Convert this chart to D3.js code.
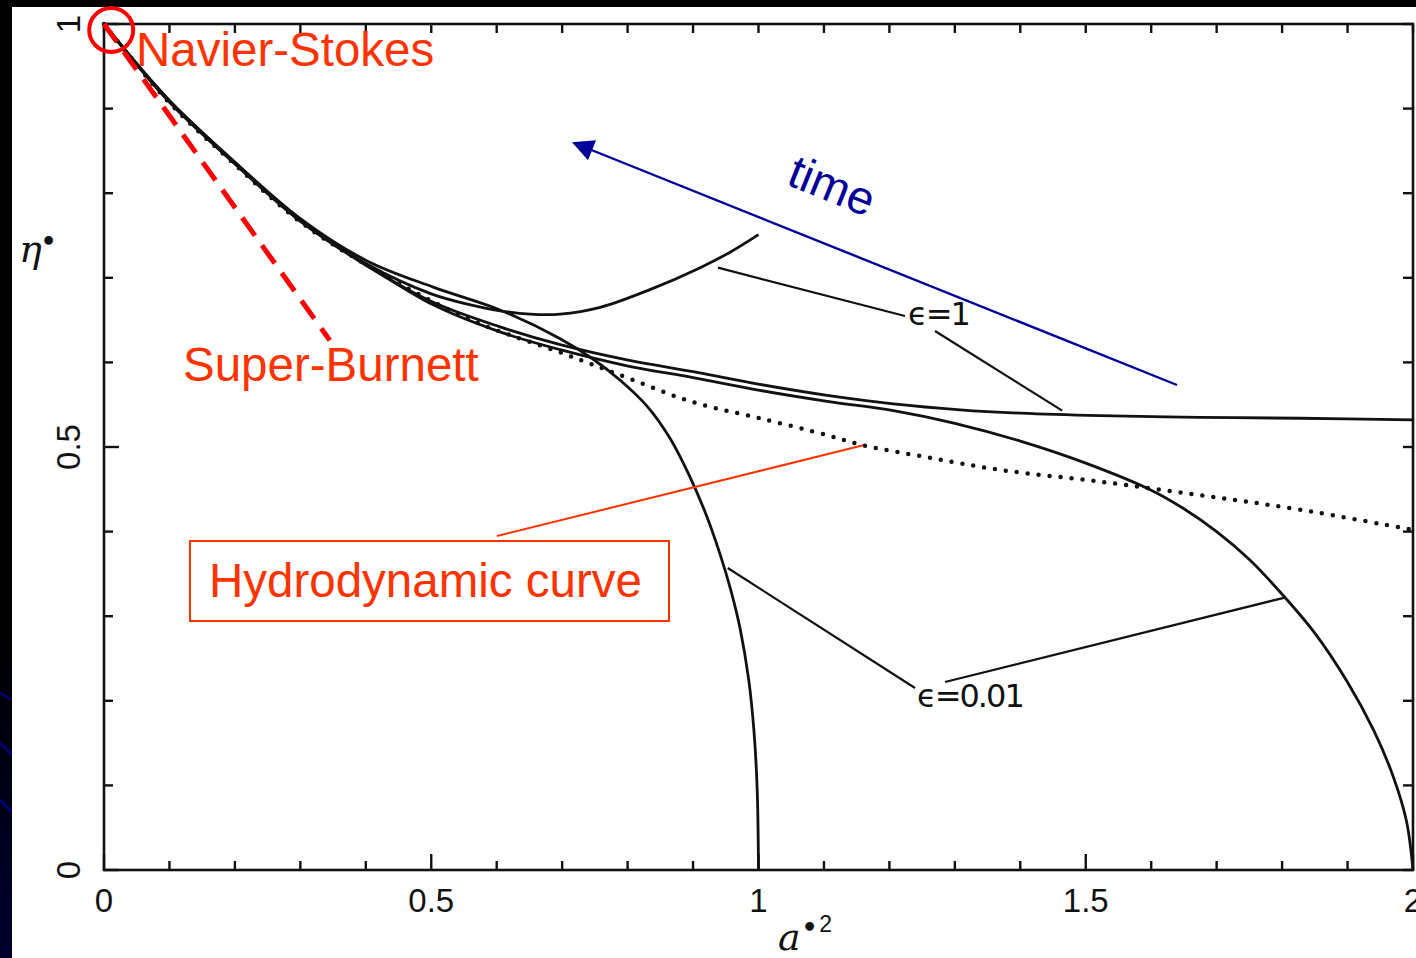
<!DOCTYPE html>
<html>
<head>
<meta charset="utf-8">
<script src="https://cdn.jsdelivr.net/npm/d3@7"></script>
<style>
  html, body { margin: 0; padding: 0; background: #000; }
  svg { display: block; }
</style>
</head>
<body>
<svg id="chart" width="1416" height="958"></svg>
<script>
// ---- Data: reduced shear viscosity eta* versus a*^2 ----
// Hydrodynamic (steady) curve
const hydroCurve = [[0,1],[0.096,0.910],[0.197,0.836],[0.300,0.766],[0.402,0.715],[0.555,0.652],[0.707,0.609],[0.799,0.582],[0.900,0.553],[1.002,0.534],[1.105,0.514],[1.160,0.502],[1.257,0.488],[1.369,0.473],[1.522,0.459],[1.675,0.443],[1.827,0.426],[2.0,0.402]];
// epsilon = 1 trajectories
const eps1Rising = [[0,1],[0.096,0.911],[0.197,0.837],[0.300,0.767],[0.402,0.716],[0.500,0.681],[0.560,0.668],[0.605,0.661],[0.651,0.657],[0.697,0.657],[0.758,0.665],[0.834,0.686],[0.911,0.712],[0.956,0.730],[1.0,0.751]];
const eps1Flat = [[0,1],[0.096,0.911],[0.197,0.837],[0.300,0.767],[0.402,0.714],[0.503,0.671],[0.605,0.642],[0.697,0.621],[0.799,0.603],[0.900,0.589],[1.002,0.574],[1.105,0.561],[1.206,0.551],[1.308,0.544],[1.400,0.540],[1.522,0.537],[1.675,0.535],[1.827,0.534],[2.0,0.532]];
// epsilon = 0.01 trajectories
const eps001Short = [[0,1],[0.096,0.913],[0.197,0.839],[0.300,0.770],[0.402,0.720],[0.503,0.689],[0.605,0.662],[0.697,0.628],[0.747,0.604],[0.790,0.578],[0.830,0.548],[0.865,0.510],[0.895,0.465],[0.920,0.420],[0.941,0.374],[0.958,0.330],[0.972,0.285],[0.985,0.225],[0.993,0.165],[0.998,0.095],[1.0,0]];
const eps001Long = [[0,1],[0.096,0.912],[0.197,0.838],[0.300,0.768],[0.402,0.715],[0.503,0.668],[0.605,0.636],[0.697,0.615],[0.799,0.596],[0.900,0.582],[1.002,0.567],[1.105,0.554],[1.206,0.543],[1.300,0.528],[1.400,0.507],[1.500,0.481],[1.600,0.449],[1.650,0.427],[1.700,0.400],[1.750,0.367],[1.800,0.326],[1.850,0.280],[1.900,0.222],[1.940,0.165],[1.970,0.110],[1.990,0.058],[2.0,0]];
// Super-Burnett approximation near the Navier-Stokes point
const superBurnett = [[0,1],[0.345,0.626]];

const xTickLabels = [0, 0.5, 1, 1.5, 2];
const yTickLabels = [0, 0.5, 1];

// ---- Layout ----
const svg = d3.select("#chart");
const W = 1416, H = 958;
const x = d3.scaleLinear().domain([0, 2]).range([104, 1413]);
const y = d3.scaleLinear().domain([0, 1]).range([870, 24]);

// slide backdrop
const defs = svg.append("defs");
const grad = defs.append("linearGradient").attr("id", "edgeGrad").attr("x1", 0).attr("x2", 0).attr("y1", 0).attr("y2", 1);
grad.append("stop").attr("offset", "0.65").attr("stop-color", "#000");
grad.append("stop").attr("offset", "1").attr("stop-color", "#000030");
svg.append("rect").attr("width", W).attr("height", H).attr("fill", "url(#edgeGrad)");
[[693, 700], [743, 755], [800, 812]].forEach(([y0, y1]) => {
  svg.append("line").attr("x1", 0).attr("y1", y0).attr("x2", 12).attr("y2", y1)
    .attr("stroke", "#000080").attr("stroke-width", 2.5);
});
svg.append("rect").attr("x", 12).attr("y", 7).attr("width", W - 12).attr("height", H - 7).attr("fill", "#fff");

// ---- Frame and ticks ----
const g = svg.append("g");
const frameColor = "#111";
g.append("rect").attr("x", x(0)).attr("y", y(1)).attr("width", x(2) - x(0)).attr("height", y(0) - y(1))
  .attr("fill", "none").attr("stroke", frameColor).attr("stroke-width", 2.6);

const ticks = d3.range(0, 21).map(i => i / 10);
const yticks = d3.range(0, 11).map(i => i / 10);
const isMajor = v => Math.abs(v * 2 - Math.round(v * 2)) < 1e-6;

// bottom & top ticks, pointing into the frame
ticks.forEach(v => {
  const len = isMajor(v) ? 16 : 9;
  g.append("line").attr("x1", x(v)).attr("x2", x(v)).attr("y1", y(0)).attr("y2", y(0) - len)
    .attr("stroke", frameColor).attr("stroke-width", 2.4);
  g.append("line").attr("x1", x(v)).attr("x2", x(v)).attr("y1", y(1)).attr("y2", y(1) + 9)
    .attr("stroke", frameColor).attr("stroke-width", 2.4);
});
// left & right ticks
yticks.forEach(v => {
  const len = isMajor(v) ? 15 : 9;
  g.append("line").attr("x1", x(0)).attr("x2", x(0) + len).attr("y1", y(v)).attr("y2", y(v))
    .attr("stroke", frameColor).attr("stroke-width", 2.4);
  g.append("line").attr("x1", x(2)).attr("x2", x(2) - 10).attr("y1", y(v)).attr("y2", y(v))
    .attr("stroke", frameColor).attr("stroke-width", 2.4);
});

// tick labels
const tickFont = "'Liberation Sans', Arial, sans-serif";
g.selectAll(".xlab").data(xTickLabels).enter().append("text")
  .attr("x", d => x(d)).attr("y", 912)
  .attr("text-anchor", "middle").attr("font-family", tickFont).attr("font-size", 33)
  .attr("fill", "#111").text(d => d);
g.selectAll(".ylab").data(yTickLabels).enter().append("text")
  .attr("transform", d => `translate(80,${y(d)}) rotate(-90)`)
  .attr("text-anchor", "middle").attr("font-family", tickFont).attr("font-size", 33)
  .attr("fill", "#111").text(d => d);

// axis titles
const yTitle = g.append("text").attr("x", 19).attr("y", 262)
  .attr("font-family", "'DejaVu Serif', 'Liberation Serif', serif").attr("font-style", "italic")
  .attr("font-size", 38).attr("fill", "#111");
yTitle.append("tspan").text("η");
yTitle.append("tspan").attr("dy", -10).attr("dx", -2).attr("font-size", 30).attr("font-style", "normal").text("•");

const xTitle = g.append("text").attr("x", 778).attr("y", 950)
  .attr("font-family", "'DejaVu Serif', 'Liberation Serif', serif").attr("font-style", "italic")
  .attr("font-size", 38).attr("fill", "#111");
xTitle.append("tspan").text("a");
xTitle.append("tspan").attr("dy", -12).attr("font-size", 30).attr("font-style", "normal").text("•");
xTitle.append("tspan").attr("dy", -6).attr("dx", 1).attr("font-size", 23).attr("font-style", "normal")
  .attr("font-family", tickFont).text("2");

// ---- Curves ----
const line = d3.line().x(d => x(d[0])).y(d => y(d[1])).curve(d3.curveCatmullRom.alpha(0.5));

g.append("path").datum(hydroCurve).attr("d", line).attr("fill", "none")
  .attr("stroke", "#111").attr("stroke-width", 4.5).attr("stroke-linecap", "round")
  .attr("stroke-dasharray", "0,11");

[eps1Rising, eps1Flat, eps001Short, eps001Long].forEach(c => {
  g.append("path").datum(c).attr("d", line).attr("fill", "none")
    .attr("stroke", "#111").attr("stroke-width", 2.8).attr("stroke-linejoin", "round");
});

// ---- Annotations ----
const red = "#ff0000", orange = "#ff3300", blue = "#000099";
const annoFont = "'Liberation Sans', Arial, sans-serif";

// Super-Burnett dashed line
g.append("path").datum(superBurnett).attr("d", d3.line().x(d => x(d[0])).y(d => y(d[1])))
  .attr("stroke", red).attr("stroke-width", 5).attr("stroke-dasharray", "22,12").attr("fill", "none");

// Navier-Stokes point
g.append("circle").attr("cx", x(0.011)).attr("cy", y(0.993)).attr("r", 22)
  .attr("fill", "none").attr("stroke", red).attr("stroke-width", 4);
g.append("text").attr("x", 136).attr("y", 66).attr("font-family", annoFont).attr("font-size", 47.5)
  .attr("fill", orange).text("Navier-Stokes");
g.append("text").attr("x", 183).attr("y", 381).attr("font-family", annoFont).attr("font-size", 47.5)
  .attr("fill", orange).text("Super-Burnett");

// Hydrodynamic curve label box
g.append("rect").attr("x", 190).attr("y", 541).attr("width", 479).attr("height", 80)
  .attr("fill", "none").attr("stroke", orange).attr("stroke-width", 2);
g.append("text").attr("x", 209).attr("y", 597).attr("font-family", annoFont).attr("font-size", 47.5)
  .attr("fill", orange).text("Hydrodynamic curve");
g.append("line").attr("x1", 497).attr("y1", 536).attr("x2", x(1.16)).attr("y2", y(0.502))
  .attr("stroke", orange).attr("stroke-width", 2);

// time arrow
defs.append("marker").attr("id", "arrowHead").attr("viewBox", "0 0 10 10")
  .attr("refX", 9).attr("refY", 5).attr("markerWidth", 11).attr("markerHeight", 9)
  .attr("markerUnits", "strokeWidth").attr("orient", "auto")
  .append("path").attr("d", "M0,0 L10,5 L0,10 z").attr("fill", blue);
g.append("line").attr("x1", 1177).attr("y1", 385).attr("x2", 574).attr("y2", 143)
  .attr("stroke", blue).attr("stroke-width", 2.4).attr("marker-end", "url(#arrowHead)");
g.append("text").attr("transform", "translate(785,184) rotate(22)")
  .attr("font-family", annoFont).attr("font-size", 47).attr("fill", blue).text("time");

// epsilon labels and leader lines
const leader = (a0, e0, x1, y1) => g.append("line")
  .attr("x1", x(a0)).attr("y1", y(e0)).attr("x2", x1).attr("y2", y1)
  .attr("stroke", "#111").attr("stroke-width", 2.2);
leader(0.938, 0.712, 905, 316);
leader(1.464, 0.543, 935, 331);
leader(0.953, 0.357, 915, 688);
leader(1.804, 0.322, 945, 682);

g.append("text").attr("x", 908).attr("y", 325).attr("font-family", "'DejaVu Sans', sans-serif")
  .attr("font-size", 32).attr("letter-spacing", -2).attr("fill", "#111").text("ϵ=1");
g.append("text").attr("x", 917).attr("y", 707).attr("font-family", "'DejaVu Sans', sans-serif")
  .attr("font-size", 32).attr("letter-spacing", -2).attr("fill", "#111").text("ϵ=0.01");
</script>
</body>
</html>
